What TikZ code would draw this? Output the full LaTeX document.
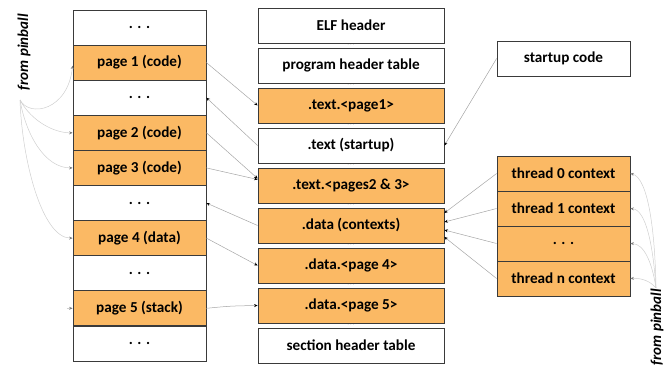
\documentclass[tikz,border=0pt]{standalone}
\usepackage{fontspec}
\setmainfont{Carlito}
\usetikzlibrary{arrows.meta}
\definecolor{org}{HTML}{FBB964}
\definecolor{bord}{HTML}{3A3A3A}
\definecolor{conn}{HTML}{A6A6A6}
\definecolor{pin}{HTML}{CFCFCF}
\begin{document}
\begin{tikzpicture}[x=1pt,y=-1pt,
  cell/.style={draw=bord,line width=0.8pt,minimum width=133pt,minimum height=35pt,inner sep=0pt,font=\fontsize{15.2}{16}\selectfont\bfseries},
  sect/.style={draw=bord,line width=0.8pt,minimum width=186pt,minimum height=35pt,inner sep=0pt,font=\fontsize{15.2}{16}\selectfont\bfseries},
  hot/.style={fill=org},
  cold/.style={fill=white},
  gapdots/.style={text=gray!70,font=\fontsize{5}{5}\selectfont,inner sep=0pt},
  conn/.style={draw=conn,line width=0.5pt,-{Stealth[length=3.5pt,width=3pt,black]}},
  pinarr/.style={draw=pin,line width=0.5pt,-{Stealth[length=3.5pt,width=3pt,gray]}},
  pinlbl/.style={rotate=90,font=\fontsize{15}{15}\selectfont\bfseries\itshape}
]
\useasboundingbox (0,0) rectangle (671,367);
% left column
\node[cell,cold] (l0) at (139.5,27.5) {. . .};
\node[cell,hot]  (p1) at (139.5,62.6) {page 1 (code)};
\node[cell,cold] (l2) at (139.5,97.7) {. . .};
\node[cell,hot]  (p2) at (139.5,132.8) {page 2 (code)};
\node[cell,hot]  (p3) at (139.5,167.9) {page 3 (code)};
\node[cell,cold] (l5) at (139.5,203.0) {. . .};
\node[cell,hot]  (p4) at (139.5,238.1) {page 4 (data)};
\node[cell,cold] (l7) at (139.5,273.2) {. . .};
\node[cell,hot]  (p5) at (139.5,308.3) {page 5 (stack)};
\node[cell,cold] (l9) at (139.5,343.4) {. . .};
% middle column
\node[sect,cold] (elf) at (351,25.5) {ELF header};
\node[sect,cold] (pht) at (351,65.5) {program header table};
\node[sect,hot]  (tp1) at (351,105.5) {.text.<page1>};
\node[sect,cold] (ts)  at (351,145.5) {.text (startup)};
\node[sect,hot]  (t23) at (351,185.5) {.text.<pages2 \& 3>};
\node[sect,hot]  (dc)  at (351,225.5) {.data (contexts)};
\node[sect,hot]  (d4)  at (351,265.5) {.data.<page 4>};
\node[sect,hot]  (d5)  at (351,305.5) {.data.<page 5>};
\node[sect,cold] (sht) at (351,345.5) {section header table};
\foreach \y/\n in {45.5/g1,85.5/g2,125.5/g3,165.5/g4,205.5/g5,245.5/g6,285.5/g7,325.5/g8}
  \node[gapdots] (\n) at (351,\y) {. . .};
% right column
\node[cell,cold] (sc)  at (563.5,58.5) {startup code};
\node[cell,hot]  (th0) at (563.5,173.5) {thread 0 context};
\node[cell,hot]  (th1) at (563.5,208.5) {thread 1 context};
\node[cell,hot]  (thd) at (563.5,243.5) {. . .};
\node[cell,hot]  (thn) at (563.5,278.5) {thread n context};
% connectors
\draw[conn] (p1.east) -- (tp1.west);
\draw[conn] (ts.west) -- (l2.east);
\draw[conn] (p2.east) -- ([yshift=7pt]t23.west);
\draw[conn] (p3.east) -- ([yshift=6pt]t23.west);
\draw[conn] (dc.west) -- (l5.east);
\draw[conn] (p4.east) -- (d4.west);
\draw[conn] (p5.east) .. controls (230,306) .. (d5.west);
\draw[conn] (sc.west) -- (ts.east);
\draw[conn] (th0.west) -- ([yshift=12.5pt]dc.east);
\draw[conn] (th1.west) -- ([yshift=3.5pt]dc.east);
\draw[conn] (thd.west) -- ([yshift=-4.5pt]dc.east);
\draw[conn] (thn.west) -- ([yshift=-11.5pt]dc.east);
% from pinball (left)
\node[pinlbl] (lpl) at (24,52) {from pinball};
\coordinate (lp) at (20,100);
\draw[pinarr] (lp) .. controls (30,118) and (68,110) .. ([yshift=-3pt]p1.west);
\draw[pinarr] (lp) .. controls (32,122) and (55,133) .. (p2.west);
\draw[pinarr] (lp) .. controls (26,135) and (45,168) .. (p3.west);
\draw[pinarr] (lp) .. controls (22,160) and (42,238) .. (p4.west);
\draw[pinarr] ([xshift=-6pt]p5.west) -- (p5.west);
% from pinball (right)
\node[pinlbl] (rpl) at (657,327) {from pinball};
\coordinate (rp) at (656,288);
\draw[pinarr] (rp) .. controls (655,230) and (648,178) .. (th0.east);
\draw[pinarr] (rp) .. controls (653,245) and (646,210) .. (th1.east);
\draw[pinarr] (rp) .. controls (652,262) and (644,244) .. (thd.east);
\draw[pinarr] (rp) .. controls (650,281) and (642,278) .. (thn.east);
\end{tikzpicture}
\end{document}
